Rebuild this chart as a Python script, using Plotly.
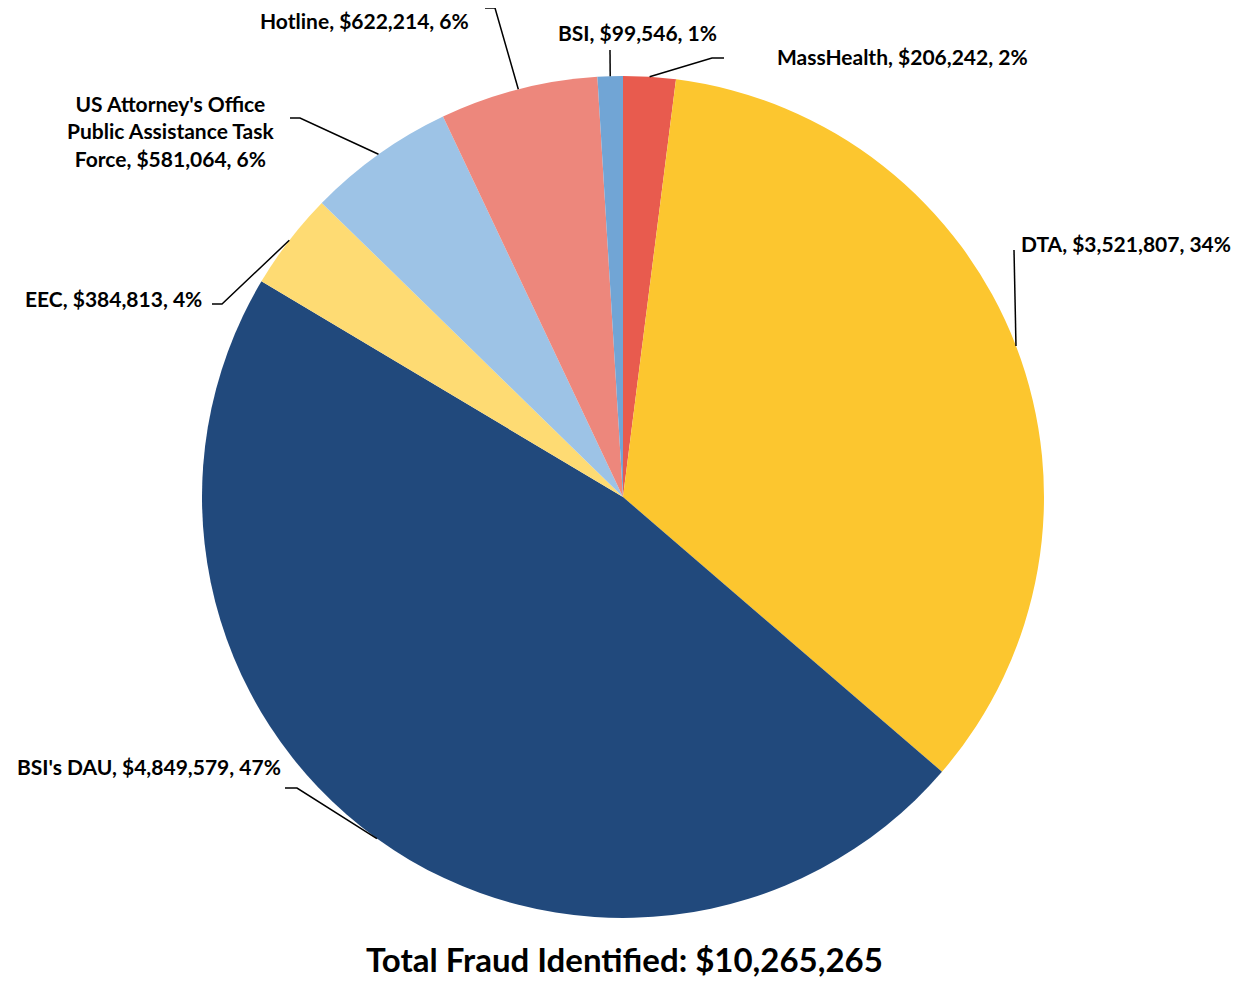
import math
import plotly.graph_objects as go

categories = ["MassHealth", "DTA", "BSI's DAU", "EEC",
              "US Attorney's Office<br>Public Assistance Task<br>Force", "Hotline", "BSI"]
values = [206242, 3521807, 4849579, 384813, 581064, 622214, 99546]
colors = ["#E85B4E", "#FCC62F", "#21497C", "#FEDB73", "#9DC3E6", "#ED877C", "#71A5D5"]
title_text = "Total Fraud Identified: $10,265,265"

W, H = 1247, 987          # screenshot size
OFF = 8                   # page body margin
FW, FH = W - 2 * OFF, H - 2 * OFF
CX, CY, R = 623, 497, 421

# label placement in screenshot pixels
label_layout = [
    (712, 58, 724, 58, 775, 56, "left", "left"),
    (1014, 250, 1014, 250, 1019, 243, "left", "left"),
    (297, 788, 285, 788, 283, 766, "right", "left"),
    (222, 304, 212, 304, 204, 298, "right", "left"),
    (300, 118, 290, 118, 170, 131, "center", "center"),
    (495, 8, 485, 8, 471, 20, "right", "left"),
    (610, 50, 610, 50, 637, 32, "center", "center"),
]

total = sum(values)
fig = go.Figure()
fig.add_trace(go.Pie(
    labels=categories, values=values, sort=False, direction="clockwise", rotation=0,
    marker=dict(colors=colors, line=dict(width=0)),
    textinfo="none", hoverinfo="label+value+percent", showlegend=False,
    domain=dict(x=[(CX - R - OFF) / FW, (CX + R - OFF) / FW],
                y=[1 - (CY + R - OFF) / FH, 1 - (CY - R - OFF) / FH]),
))

font = dict(family="Lato, Arial, sans-serif", size=21, color="black")
shapes = []
annotations = []
cum = 0
for name, v, lay in zip(categories, values, label_layout):
    mid = (cum + v / 2) / total
    cum += v
    ang = 2 * math.pi * mid
    ex = CX + R * math.sin(ang)
    ey = CY - R * math.cos(ang)
    bx, by, tx, ty, lx, ly, xa, al = lay
    shapes.append(dict(type="path", xref="x", yref="y",
                       path=f"M {ex:.1f},{ey:.1f} L {bx},{by} L {tx},{ty}",
                       line=dict(color="black", width=1.5)))
    pct = round(v / total * 100)
    annotations.append(dict(x=lx, y=ly, xref="x", yref="y", xanchor=xa, yanchor="middle",
                            align=al, showarrow=False, font=font,
                            text=f"<b>{name}, ${v:,}, {pct}%</b>"))

annotations.append(dict(x=624, y=959, xref="x", yref="y", xanchor="center", yanchor="middle",
                        showarrow=False, text=f"<b>{title_text}</b>",
                        font=dict(family="Lato, Arial, sans-serif", size=33, color="black")))

fig.update_layout(
    width=FW, height=FH, margin=dict(l=0, r=0, t=0, b=0),
    paper_bgcolor="white", plot_bgcolor="rgba(0,0,0,0)",
    xaxis=dict(range=[OFF, OFF + FW], visible=False, fixedrange=True),
    yaxis=dict(range=[OFF + FH, OFF], visible=False, fixedrange=True),
    shapes=shapes, annotations=annotations,
)
fig.write_html("out.html")
